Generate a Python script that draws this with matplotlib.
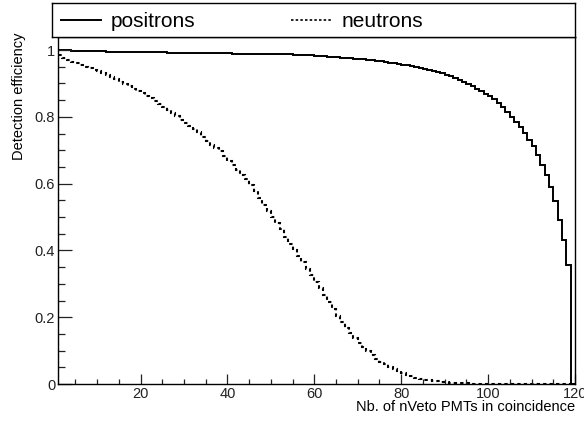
import numpy as np
import matplotlib
matplotlib.use("Agg")
import matplotlib.pyplot as plt
from matplotlib.lines import Line2D

plt.rcParams['font.family'] = ['Liberation Sans', 'DejaVu Sans']

# Histogram binning: one bin per PMT multiplicity, from 1 to 120
first_bin = 1
last_edge = 120

# Detection efficiency per bin (bins 1..119)
positrons = [
    1.000, 0.999, 0.999, 0.998, 0.998, 0.997, 0.997, 0.997, 0.996, 0.996,
    0.996, 0.995, 0.995, 0.995, 0.995, 0.994, 0.994, 0.994, 0.994, 0.994,
    0.993, 0.993, 0.993, 0.993, 0.993, 0.992, 0.992, 0.992, 0.992, 0.992,
    0.991, 0.991, 0.991, 0.991, 0.991, 0.990, 0.990, 0.990, 0.990, 0.990,
    0.989, 0.989, 0.989, 0.989, 0.989, 0.988, 0.988, 0.988, 0.988, 0.988,
    0.987, 0.987, 0.987, 0.987, 0.986, 0.986, 0.985, 0.985, 0.984, 0.983,
    0.982, 0.981, 0.980, 0.979, 0.978, 0.977, 0.976, 0.975, 0.974, 0.973,
    0.972, 0.970, 0.969, 0.967, 0.966, 0.964, 0.962, 0.960, 0.958, 0.956,
    0.954, 0.952, 0.949, 0.946, 0.943, 0.940, 0.937, 0.935, 0.931, 0.926,
    0.922, 0.917, 0.911, 0.905, 0.898, 0.891, 0.884, 0.877, 0.869, 0.861,
    0.852, 0.841, 0.828, 0.814, 0.799, 0.784, 0.769, 0.751, 0.731, 0.712,
    0.687, 0.655, 0.627, 0.590, 0.547, 0.492, 0.430, 0.356, 0.000,
]

neutrons = [
    0.985, 0.977, 0.970, 0.965, 0.961, 0.955, 0.950, 0.945, 0.940, 0.936,
    0.931, 0.926, 0.919, 0.912, 0.904, 0.897, 0.891, 0.884, 0.877, 0.870,
    0.862, 0.855, 0.847, 0.837, 0.828, 0.819, 0.810, 0.801, 0.791, 0.781,
    0.772, 0.763, 0.754, 0.741, 0.727, 0.717, 0.708, 0.697, 0.683, 0.669,
    0.657, 0.641, 0.627, 0.613, 0.597, 0.577, 0.557, 0.537, 0.518, 0.500,
    0.483, 0.464, 0.441, 0.420, 0.401, 0.382, 0.364, 0.345, 0.325, 0.305,
    0.287, 0.266, 0.246, 0.226, 0.203, 0.185, 0.168, 0.152, 0.139, 0.124,
    0.111, 0.099, 0.088, 0.076, 0.067, 0.059, 0.051, 0.044, 0.038, 0.032,
    0.027, 0.023, 0.019, 0.016, 0.013, 0.011, 0.009, 0.008, 0.006, 0.005,
    0.004, 0.004, 0.003, 0.002, 0.002, 0.001, 0.001, 0.001, 0.0005, 0.000,
    0.000, 0.000, 0.000, 0.000, 0.000, 0.000, 0.000, 0.000, 0.000, 0.000,
    0.000, 0.000, 0.000, 0.000, 0.000, 0.000, 0.000, 0.000, 0.000,
]

edges = np.arange(first_bin, last_edge + 1)

W, H = 584, 421
fig = plt.figure(figsize=(W / 100, H / 100), dpi=100)

# main frame (pixel box 58..575 x 37..384)
ax = fig.add_axes([58 / W, 1 - 384 / H, (575 - 58) / W, (384 - 37) / H])

dotted = (0, (1.6, 1.5))
ax.stairs(positrons, edges, color='black', lw=1.4, baseline=0)
ax.stairs(neutrons, edges, color='black', lw=1.5, baseline=0, linestyle=dotted)

ax.set_xlim(first_bin, last_edge)
ax.set_ylim(0, 1.039)

ax.set_xticks(np.arange(20, 121, 20))
ax.set_xticks(np.arange(5, 120, 5), minor=True)
ax.set_yticks(np.arange(0, 1.01, 0.2))
ax.set_yticks(np.arange(0, 1.01, 0.05), minor=True)
ax.set_yticklabels([f"{v:g}" for v in np.arange(0, 1.01, 0.2).round(1)])

ax.tick_params(axis='both', which='both', direction='in', labelsize=10.5,
               colors='#222222', width=0.9)
ax.tick_params(axis='y', which='major', length=10, pad=2)
ax.tick_params(axis='y', which='minor', length=5)
ax.tick_params(axis='x', which='major', length=7.5, pad=2.5)
ax.tick_params(axis='x', which='minor', length=3.8)
for s in ax.spines.values():
    s.set_linewidth(1.0)

# axis titles, ROOT style (right / top aligned)
fig.text(575 / W, 1 - 411 / H, "Nb. of nVeto PMTs in coincidence",
         ha='right', va='baseline', fontsize=10.5)
fig.text(19 / W, 1 - 33 / H, "Detection efficiency", rotation=90,
         ha='center', va='top', fontsize=10.5)

# legend box on top of the frame
lax = fig.add_axes([52 / W, 1 - 37 / H, (575 - 52) / W, 34 / H])
lax.set_xticks([])
lax.set_yticks([])
for s in lax.spines.values():
    s.set_linewidth(1.0)
handles = [Line2D([], [], color='black', lw=1.4),
           Line2D([], [], color='black', lw=1.2, linestyle=(0, (1.5, 1.3)))]
lax.legend(handles, ['positrons', 'neutrons'], ncol=2, frameon=False,
           loc='center left', bbox_to_anchor=(9 / 523, 0.45),
           borderpad=0, borderaxespad=0, fontsize=15,
           handlelength=1.9, handletextpad=0.5, columnspacing=4.6)

fig.savefig("out.png", dpi=100)
